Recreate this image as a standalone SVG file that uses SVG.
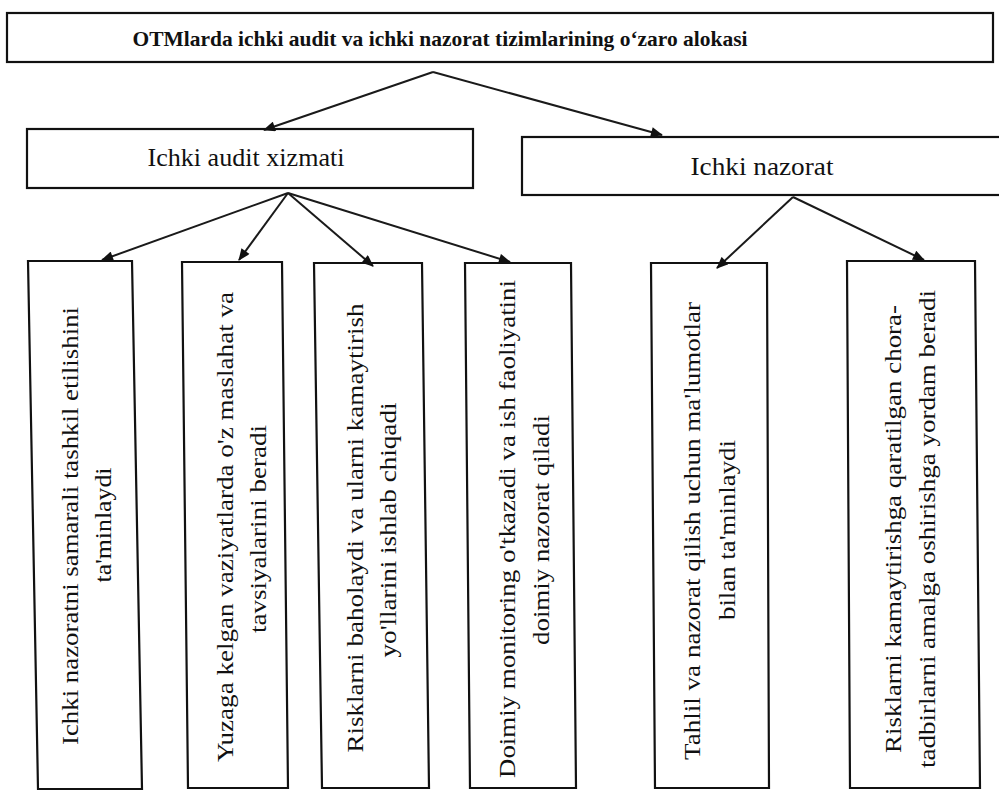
<svg xmlns="http://www.w3.org/2000/svg" width="999" height="791" viewBox="0 0 999 791">
<style>
.box{fill:#fff;stroke:#111;stroke-width:2.2}
.conn{stroke:#1a1a1a;stroke-width:2;fill:none;marker-end:url(#ah)}
.t{font-family:"Liberation Serif","Times New Roman",serif;fill:#111}
.title{font-size:22px;font-weight:bold}
.mid{font-size:25px}
.v{font-size:23px}
</style>
<defs>
<marker id="ah" viewBox="0 0 12 10" refX="11" refY="5" markerWidth="13" markerHeight="10" markerUnits="userSpaceOnUse" orient="auto">
<path d="M0,0 L12,5 L0,10 z" fill="#111"/>
</marker>
</defs>
<rect width="999" height="791" fill="#fff"/>
<g id="title">
<rect class="box" x="7" y="13" width="986" height="49"/>
<text class="t title" x="440" y="46" text-anchor="middle" textLength="615" lengthAdjust="spacingAndGlyphs">OTMlarda ichki audit va ichki nazorat tizimlarining o‘zaro alokasi</text>
</g>
<g id="audit">
<rect class="box" x="27" y="129" width="446" height="59"/>
<text class="t mid" x="246" y="166" text-anchor="middle" textLength="197" lengthAdjust="spacingAndGlyphs">Ichki audit xizmati</text>
</g>
<g id="nazorat">
<rect class="box" x="522" y="137" width="483" height="58"/>
<text class="t mid" x="762" y="175" text-anchor="middle" textLength="143" lengthAdjust="spacingAndGlyphs">Ichki nazorat</text>
</g>
<g id="b1">
<polygon class="box" points="28,261 132,261 142,789 38,789"/>
<text class="t v" transform="translate(70,526) rotate(-90)" text-anchor="middle" dominant-baseline="central" textLength="438" lengthAdjust="spacingAndGlyphs">Ichki nazoratni samarali tashkil etilishini</text>
<text class="t v" transform="translate(103,525) rotate(-90)" text-anchor="middle" dominant-baseline="central" textLength="115" lengthAdjust="spacingAndGlyphs">ta'minlaydi</text>
</g>
<g id="b2">
<polygon class="box" points="182,262 282,262 288,788 188,788"/>
<text class="t v" transform="translate(225,527) rotate(-90)" text-anchor="middle" dominant-baseline="central" textLength="470" lengthAdjust="spacingAndGlyphs">Yuzaga kelgan vaziyatlarda o'z maslahat va</text>
<text class="t v" transform="translate(258,529) rotate(-90)" text-anchor="middle" dominant-baseline="central" textLength="208" lengthAdjust="spacingAndGlyphs">tavsiyalarini beradi</text>
</g>
<g id="b3">
<polygon class="box" points="314,263 422,263 429,788 322,788"/>
<text class="t v" transform="translate(355,528) rotate(-90)" text-anchor="middle" dominant-baseline="central" textLength="449" lengthAdjust="spacingAndGlyphs">Risklarni baholaydi va ularni kamaytirish</text>
<text class="t v" transform="translate(388,530) rotate(-90)" text-anchor="middle" dominant-baseline="central" textLength="255" lengthAdjust="spacingAndGlyphs">yo'llarini ishlab chiqadi</text>
</g>
<g id="b4">
<polygon class="box" points="465,263 571,263 576,788 470,788"/>
<text class="t v" transform="translate(507,529) rotate(-90)" text-anchor="middle" dominant-baseline="central" textLength="498" lengthAdjust="spacingAndGlyphs">Doimiy monitoring o'tkazadi va ish faoliyatini</text>
<text class="t v" transform="translate(541,530) rotate(-90)" text-anchor="middle" dominant-baseline="central" textLength="230" lengthAdjust="spacingAndGlyphs">doimiy nazorat qiladi</text>
</g>
<g id="b5">
<polygon class="box" points="651,263 767,263 769,788 655,788"/>
<text class="t v" transform="translate(692,531) rotate(-90)" text-anchor="middle" dominant-baseline="central" textLength="458" lengthAdjust="spacingAndGlyphs">Tahlil va nazorat qilish uchun ma'lumotlar</text>
<text class="t v" transform="translate(727,530) rotate(-90)" text-anchor="middle" dominant-baseline="central" textLength="180" lengthAdjust="spacingAndGlyphs">bilan ta'minlaydi</text>
</g>
<g id="b6">
<polygon class="box" points="847,261 975,261 980,788 850,788"/>
<text class="t v" transform="translate(893,529) rotate(-90)" text-anchor="middle" dominant-baseline="central" textLength="448" lengthAdjust="spacingAndGlyphs">Risklarni kamaytirishga qaratilgan chora-</text>
<text class="t v" transform="translate(927,529) rotate(-90)" text-anchor="middle" dominant-baseline="central" textLength="478" lengthAdjust="spacingAndGlyphs">tadbirlarni amalga oshirishga yordam beradi</text>
</g>
<g id="connectors">
<line class="conn" x1="433" y1="72" x2="264" y2="130"/>
<line class="conn" x1="433" y1="72" x2="662" y2="135"/>
<line class="conn" x1="288" y1="193" x2="102" y2="260"/>
<line class="conn" x1="288" y1="193" x2="239" y2="260"/>
<line class="conn" x1="288" y1="193" x2="373" y2="266"/>
<line class="conn" x1="288" y1="193" x2="510" y2="262"/>
<line class="conn" x1="793" y1="197" x2="717" y2="268"/>
<line class="conn" x1="793" y1="197" x2="924" y2="260"/>
</g>
</svg>
